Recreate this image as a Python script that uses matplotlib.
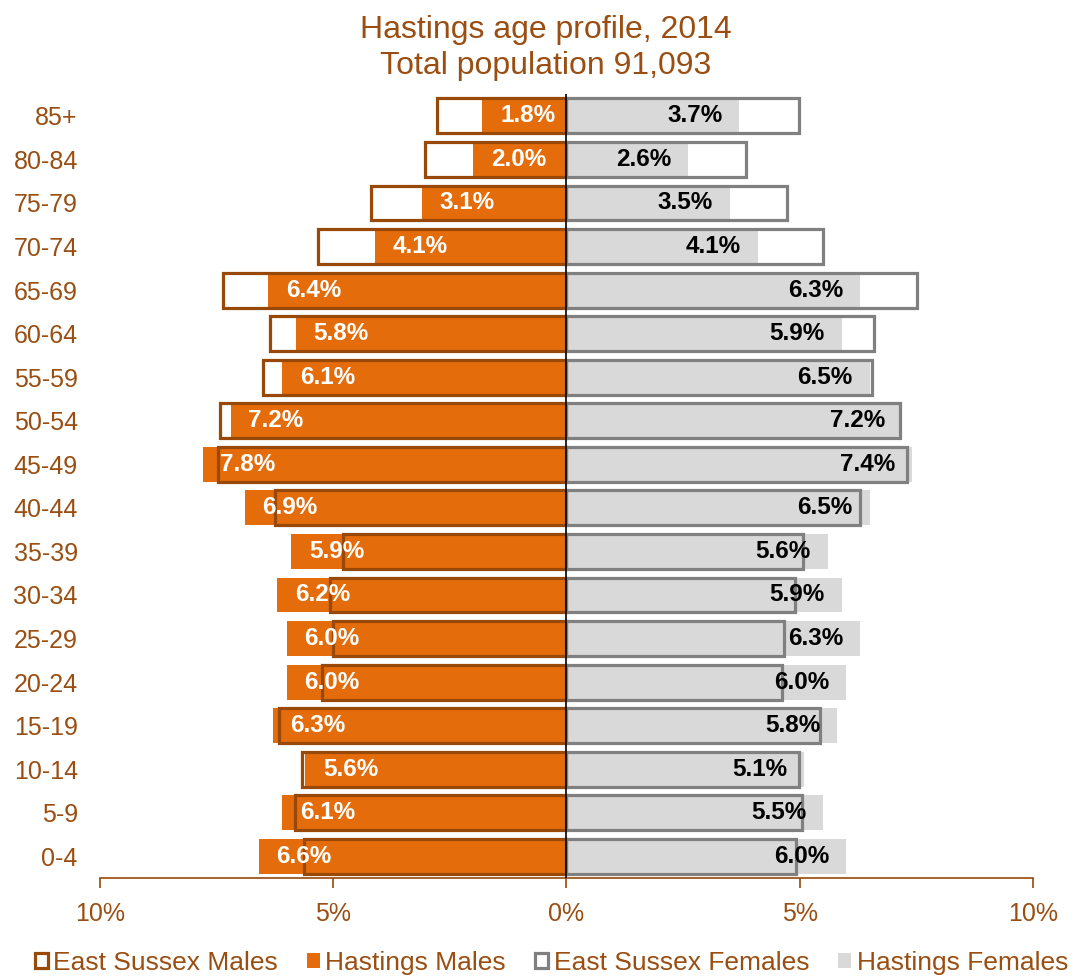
import matplotlib.pyplot as plt
import numpy as np
from matplotlib.patches import Patch

# Data (percent of population)
age_groups = ["0-4", "5-9", "10-14", "15-19", "20-24", "25-29", "30-34", "35-39",
              "40-44", "45-49", "50-54", "55-59", "60-64", "65-69", "70-74",
              "75-79", "80-84", "85+"]
hastings_males = [6.6, 6.1, 5.6, 6.3, 6.0, 6.0, 6.2, 5.9, 6.9, 7.8, 7.2, 6.1, 5.8,
                  6.4, 4.1, 3.1, 2.0, 1.8]
hastings_females = [6.0, 5.5, 5.1, 5.8, 6.0, 6.3, 5.9, 5.6, 6.5, 7.4, 7.2, 6.5, 5.9,
                    6.3, 4.1, 3.5, 2.6, 3.7]
es_males = [5.62, 5.83, 5.66, 6.17, 5.25, 5.0, 5.06, 4.8, 6.24, 7.48, 7.42, 6.5,
            6.35, 7.37, 5.32, 4.2, 3.04, 2.77]
es_females = [4.93, 5.04, 4.99, 5.44, 4.63, 4.67, 4.89, 5.08, 6.3, 7.31, 7.16, 6.56,
              6.6, 7.52, 5.49, 4.72, 3.84, 4.99]

orange = "#E46C0A"
brown = "#984807"
text_brown = "#9A4E12"
grey_fill = "#D9D9D9"
grey_edge = "#808080"

plt.rcParams["font.family"] = ["Liberation Sans", "DejaVu Sans"]

fig = plt.figure(figsize=(10.81, 9.8), dpi=100)
ax = fig.add_axes([0.0925, 0.104, 0.863, 0.80])

y = np.arange(len(age_groups))
hm = -np.array(hastings_males)
hf = np.array(hastings_females)

ax.barh(y, hm, height=0.8, color=orange, zorder=2)
ax.barh(y, hf, height=0.8, color=grey_fill, zorder=2)
ax.barh(y, -np.array(es_males), height=0.8, facecolor="none", edgecolor=brown,
        linewidth=2.3, zorder=3)
ax.barh(y, es_females, height=0.8, facecolor="none", edgecolor=grey_edge,
        linewidth=2.3, zorder=3)

ax.axvline(0, color="black", linewidth=1.2, zorder=4)

for yi, v in zip(y, hastings_males):
    ax.text(-v + 0.38, yi, f"{v:.1f}%", ha="left", va="center", color="white",
            fontsize=17.5, fontweight="bold", zorder=5)
for yi, v in zip(y, hastings_females):
    ax.text(v - 0.36, yi, f"{v:.1f}%", ha="right", va="center", color="black",
            fontsize=17.5, fontweight="bold", zorder=5)

ax.set_xlim(-10, 10)
ax.set_ylim(-0.5, len(age_groups) - 0.5)
ax.set_xticks([-10, -5, 0, 5, 10])
ax.set_xticklabels(["10%", "5%", "0%", "5%", "10%"])
ax.set_yticks(y)
ax.set_yticklabels(age_groups)

for s in ["top", "left", "right"]:
    ax.spines[s].set_visible(False)
ax.spines["bottom"].set_color(brown)
ax.spines["bottom"].set_linewidth(1.2)
ax.tick_params(axis="x", colors=brown, length=7, width=1.2, pad=10,
               labelsize=18, labelcolor=text_brown)
ax.tick_params(axis="y", length=0, pad=16, labelsize=18, labelcolor=text_brown)

fig.text(0.505, 0.951, "Hastings age profile, 2014\nTotal population 91,093",
         ha="center", va="center", fontsize=23, color=text_brown, linespacing=1.3)

handles = [
    Patch(facecolor="white", edgecolor=brown, linewidth=2.3, label="East Sussex Males"),
    Patch(facecolor=orange, label="Hastings Males"),
    Patch(facecolor="white", edgecolor=grey_edge, linewidth=2.3, label="East Sussex Females"),
    Patch(facecolor=grey_fill, label="Hastings Females"),
]
leg = fig.legend(handles=handles, loc="center", bbox_to_anchor=(0.51, 0.017),
                 ncol=4, frameon=False, fontsize=19, handlelength=0.5,
                 handleheight=0.5, handletextpad=0.2, columnspacing=1.1)
for t in leg.get_texts():
    t.set_color(text_brown)

fig.savefig("out.png", dpi=100)
